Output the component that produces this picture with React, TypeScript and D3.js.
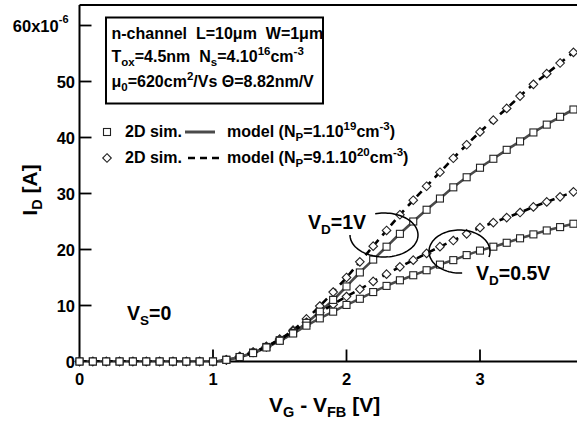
import React from 'react';
import * as d3 from 'd3';

// Gate voltage V_G - V_FB [V]
const VG = [0.0, 0.1, 0.2, 0.3, 0.4, 0.5, 0.6, 0.7, 0.8, 0.9, 1.0,
  1.1, 1.2, 1.3, 1.4, 1.5, 1.6, 1.7, 1.8, 1.9, 2.0,
  2.1, 2.2, 2.3, 2.4, 2.5, 2.6, 2.7, 2.8, 2.9, 3.0,
  3.1, 3.2, 3.3, 3.4, 3.5, 3.6, 3.7];

// I_D [uA], V_D = 1V, N_P = 1e19 (squares / solid model)
const ID_VD1_NP19 = [0, 0, 0, 0, 0, 0, 0, 0, 0, 0, 0,
  0.3, 0.8, 1.6, 2.6, 3.8, 5.1, 6.9, 8.9, 11.0, 13.4,
  15.9, 18.2, 20.5, 22.8, 25.0, 27.1, 29.1, 31.1, 32.9, 34.6,
  36.2, 37.8, 39.3, 40.9, 42.3, 43.7, 45.0];

// I_D [uA], V_D = 1V, N_P = 9.1e20 (diamonds / dashed model)
const ID_VD1_NP20 = [0, 0, 0, 0, 0, 0, 0, 0, 0, 0, 0,
  0.3, 0.9, 1.7, 2.7, 4.0, 5.6, 7.6, 9.9, 12.4, 15.0,
  17.8, 20.6, 23.4, 26.2, 28.8, 31.3, 33.8, 36.3, 38.7, 41.0,
  43.1, 45.2, 47.4, 49.5, 51.4, 53.3, 55.2];

// I_D [uA], V_D = 0.5V, N_P = 1e19 (squares / solid model)
const ID_VD05_NP19 = [0, 0, 0, 0, 0, 0, 0, 0, 0, 0, 0,
  0.3, 0.8, 1.5, 2.5, 3.7, 5.0, 6.4, 7.7, 8.9, 10.1,
  11.2, 12.4, 13.5, 14.5, 15.4, 16.3, 17.3, 18.1, 19.0, 19.8,
  20.5, 21.2, 22.0, 22.7, 23.4, 24.0, 24.6];

// I_D [uA], V_D = 0.5V, N_P = 9.1e20 (diamonds / dashed model)
const ID_VD05_NP20 = [0, 0, 0, 0, 0, 0, 0, 0, 0, 0, 0,
  0.3, 0.9, 1.6, 2.6, 3.9, 5.4, 7.0, 8.7, 10.2, 11.6,
  12.9, 14.3, 15.6, 16.9, 18.1, 19.3, 20.5, 21.6, 22.8, 23.9,
  24.8, 25.7, 26.6, 27.6, 28.5, 29.4, 30.3];

const X_TICKS = [0, 1, 2, 3];
const Y_TICKS = [0, 10, 20, 30, 40, 50, 60];

const FONT = '"Liberation Sans", Arial, Helvetica, sans-serif';

export default function App() {
  const W = 577, H = 424;
  const x = d3.scaleLinear().domain([0, 3]).range([79.5, 480]);
  const y = d3.scaleLinear().domain([0, 60]).range([361.5, 25.5]);
  const left = x(0), bottom = y(0);

  const mkLine = (vals: number[]) =>
    d3.line<number>().x((_, i) => x(VG[i])).y(d => y(d)).curve(d3.curveMonotoneX)(vals) || '';

  const ellipse = (cx: number, cy: number, rx: number, ry: number, a0: number, a1: number) => {
    const pts: [number, number][] = [];
    for (let i = 0; i <= 80; i++) {
      const t = ((a0 + (a1 - a0) * i / 80) * Math.PI) / 180;
      pts.push([cx + rx * Math.cos(t), cy + ry * Math.sin(t)]);
    }
    return d3.line()(pts) || '';
  };

  const square = (cx: number, cy: number, key: string) => (
    <rect key={key} x={cx - 3.5} y={cy - 3.5} width={7} height={7} fill="white" stroke="#222" strokeWidth={1.1} />
  );
  const diamond = (cx: number, cy: number, key: string) => (
    <path key={key} d={`M${cx},${cy - 4.3}L${cx + 4.3},${cy}L${cx},${cy + 4.3}L${cx - 4.3},${cy}Z`} fill="white" stroke="#222" strokeWidth={1.1} />
  );

  const solidStyle = { fill: 'none', stroke: '#4a4a4a', strokeWidth: 2.6 };
  const dashStyle = { fill: 'none', stroke: '#000', strokeWidth: 2.6, strokeDasharray: '7,6' };

  return (
    <svg width={W} height={H} style={{ position: 'absolute', left: 0, top: 0, background: 'white' }}
      fontFamily={FONT} fontWeight="bold">
      <rect x={0} y={0} width={W} height={H} fill="white" />
      <defs>
        <clipPath id="plotclip">
          <rect x={left} y={5} width={W - left} height={bottom - 5} />
        </clipPath>
      </defs>

      {/* frame */}
      <line x1={left} y1={5} x2={W} y2={5} stroke="#000" strokeWidth={2} />
      <line x1={left} y1={5} x2={left} y2={bottom} stroke="#000" strokeWidth={2} />
      <line x1={left} y1={bottom} x2={W} y2={bottom} stroke="#000" strokeWidth={2} />

      {/* ticks */}
      {X_TICKS.map(t => (
        <g key={'xt' + t}>
          {t > 0 && <line x1={x(t)} x2={x(t)} y1={bottom} y2={bottom - 12} stroke="#000" strokeWidth={1.8} />}
          <text x={x(t)} y={384.5} textAnchor="middle" fontSize={16.5}>{t}</text>
        </g>
      ))}
      {Y_TICKS.map(t => (
        <g key={'yt' + t}>
          {t > 0 && <line x1={left} x2={left + 12} y1={y(t)} y2={y(t)} stroke="#000" strokeWidth={1.8} />}
          {t < 60 ? (
            <text x={75} y={y(t) + 6} textAnchor="end" fontSize={16.5}>{t}</text>
          ) : (
            <text x={68.5} y={y(t) + 6} textAnchor="end" fontSize={16.5}>
              {t}x10<tspan dy={-9} fontSize={11}>-6</tspan>
            </text>
          )}
        </g>
      ))}

      {/* model lines */}
      <g clipPath="url(#plotclip)">
        <path d={mkLine(ID_VD1_NP19)} style={solidStyle} />
        <path d={mkLine(ID_VD05_NP19)} style={solidStyle} />
        <path d={mkLine(ID_VD1_NP20)} style={dashStyle} />
        <path d={mkLine(ID_VD05_NP20)} style={dashStyle} />
      </g>

      {/* simulation markers */}
      <g>
        {ID_VD1_NP20.map((v, i) => diamond(x(VG[i]), y(v), 'd1' + i))}
        {ID_VD05_NP20.map((v, i) => diamond(x(VG[i]), y(v), 'd05' + i))}
        {ID_VD1_NP19.map((v, i) => square(x(VG[i]), y(v), 's1' + i))}
        {ID_VD05_NP19.map((v, i) => square(x(VG[i]), y(v), 's05' + i))}
      </g>

      {/* ellipses */}
      <path d={ellipse(384, 235, 34, 22, -105, 180)} fill="none" stroke="#000" strokeWidth={1.5} />
      <path d={ellipse(459.5, 251.5, 30.5, 21.5, 85, 375)} fill="none" stroke="#000" strokeWidth={1.5} />

      {/* annotations */}
      <text x={308} y={229} fontSize={19.5}>V<tspan dy={5} fontSize={13.5}>D</tspan><tspan dy={-5}>=1V</tspan></text>
      <text x={476} y={280} fontSize={19.5}>V<tspan dy={5} fontSize={13.5}>D</tspan><tspan dy={-5}>=0.5V</tspan></text>
      <text x={127} y={320} fontSize={19.5}>V<tspan dy={5} fontSize={13.5}>S</tspan><tspan dy={-5}>=0</tspan></text>

      {/* info box */}
      <rect x={106} y={17.5} width={217} height={86} fill="white" stroke="#000" strokeWidth={2} />
      <g fontSize={16}>
        <text x={111.5} y={39} xmlSpace="preserve">n-channel  L=10μm  W=1μm</text>
        <text x={111.5} y={62} xmlSpace="preserve">
          T<tspan dy={4} fontSize={11.5}>ox</tspan><tspan dy={-4}>=4.5nm  N</tspan><tspan dy={4} fontSize={11.5}>s</tspan><tspan dy={-4}>=4.10</tspan><tspan dy={-7} fontSize={11.5}>16</tspan><tspan dy={7}>cm</tspan><tspan dy={-7} fontSize={11.5}>-3</tspan>
        </text>
        <text x={111.5} y={87} xmlSpace="preserve">
          μ<tspan dy={4} fontSize={11.5}>0</tspan><tspan dy={-4}>=620cm</tspan><tspan dy={-7} fontSize={11.5}>2</tspan><tspan dy={7}>/Vs Θ=8.82nm/V</tspan>
        </text>
      </g>

      {/* legend */}
      <g fontSize={16}>
        {square(107, 132, 'lg1')}
        <text x={125} y={137}>2D sim.</text>
        <line x1={185} x2={215} y1={132} y2={132} style={{ ...solidStyle, strokeWidth: 3 }} />
        <text x={227} y={137}>
          model (N<tspan dy={4} fontSize={11.5}>P</tspan><tspan dy={-4}>=1.10</tspan><tspan dy={-7} fontSize={11.5}>19</tspan><tspan dy={7}>cm</tspan><tspan dy={-7} fontSize={11.5}>-3</tspan><tspan dy={7}>)</tspan>
        </text>
        {diamond(107, 158, 'lg2')}
        <text x={125} y={163}>2D sim.</text>
        <line x1={188} x2={219} y1={158} y2={158} style={{ ...dashStyle, strokeDasharray: '7,5' }} />
        <text x={227} y={163}>
          model (N<tspan dy={4} fontSize={11.5}>P</tspan><tspan dy={-4}>=9.1.10</tspan><tspan dy={-7} fontSize={11.5}>20</tspan><tspan dy={7}>cm</tspan><tspan dy={-7} fontSize={11.5}>-3</tspan><tspan dy={7}>)</tspan>
        </text>
      </g>

      {/* axis titles */}
      <text x={269} y={412} fontSize={21} xmlSpace="preserve">
        V<tspan dy={5} fontSize={14.5}>G</tspan><tspan dy={-5}> - V</tspan><tspan dy={5} fontSize={14.5}>FB</tspan><tspan dy={-5}> [V]</tspan>
      </text>
      <text transform={`translate(37,190) rotate(-90)`} textAnchor="middle" fontSize={21} xmlSpace="preserve">
        I<tspan dy={5} fontSize={14.5}>D</tspan><tspan dy={-5}> [A]</tspan>
      </text>
    </svg>
  );
}
